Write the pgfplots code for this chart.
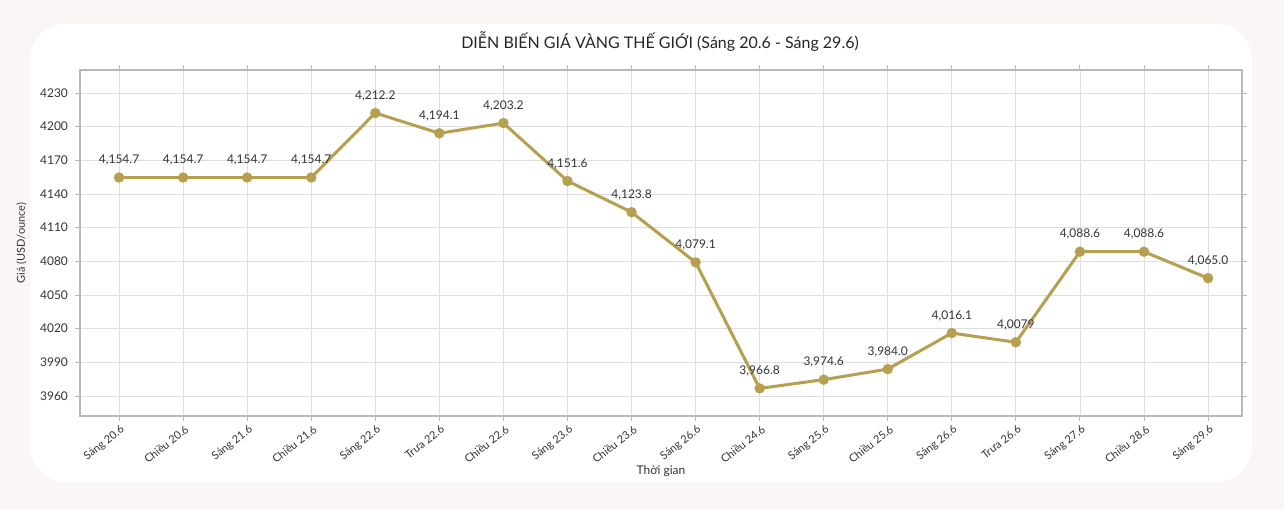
\documentclass[border=0pt]{standalone}
\usepackage{fontspec}
\setmainfont{Lato}
\usepackage{pgfplots}
\pgfplotsset{compat=1.18}
\usepackage{pgfplotstable}
\definecolor{gold}{HTML}{B79F50}
\definecolor{bgc}{HTML}{FAF6F6}
\definecolor{gridc}{HTML}{DEDEDE}
\definecolor{axc}{HTML}{B8B8B8}
\definecolor{txt}{HTML}{333333}

\pgfplotstableread{
x y lab
0 4154.7 {4,154.7}
1 4154.7 {4,154.7}
2 4154.7 {4,154.7}
3 4154.7 {4,154.7}
4 4212.2 {4,212.2}
5 4194.1 {4,194.1}
6 4203.2 {4,203.2}
7 4151.6 {4,151.6}
8 4123.8 {4,123.8}
9 4079.1 {4,079.1}
10 3966.8 {3,966.8}
11 3974.6 {3,974.6}
12 3984.0 {3,984.0}
13 4016.1 {4,016.1}
14 4007.9 {4,0079}
15 4088.6 {4,088.6}
16 4088.6 {4,088.6}
17 4065.0 {4,065.0}
}\data

\begin{document}
\begin{tikzpicture}
\useasboundingbox (0,0) rectangle (642pt,255pt);
\fill[bgc] (0,0) rectangle (642pt,255pt);
\fill[white, rounded corners=18pt] (15pt,14pt) rectangle (626pt,243pt);
\node[text=black!85, font=\fontsize{8pt}{9.5pt}\selectfont] at (330pt,234pt) {DIỄN BIẾN GIÁ VÀNG THẾ GIỚI (Sáng 20.6 - Sáng 29.6)};
\begin{axis}[
  at={(40pt,47pt)}, anchor=south west,
  scale only axis, width=581pt, height=173pt,
  xmin=-0.61, xmax=17.53, ymin=3942.2, ymax=4250.5,
  axis line style={axc, line width=0.6pt},
  grid=major, grid style={gridc, line width=0.4pt},
  ytick={3960,3990,4020,4050,4080,4110,4140,4170,4200,4230},
  xtick={0,...,17},
  xticklabels={Sáng 20.6, Chiều 20.6, Sáng 21.6, Chiều 21.6, Sáng 22.6, Trưa 22.6, Chiều 22.6, Sáng 23.6, Chiều 23.6, Sáng 26.6, Chiều 24.6, Sáng 25.6, Chiều 25.6, Sáng 26.6, Trưa 26.6, Sáng 27.6, Chiều 28.6, Sáng 29.6},
  x tick label style={rotate=38, anchor=north east, font=\fontsize{5.5pt}{6.5pt}\selectfont, text=txt, inner sep=0.5pt, yshift=-1pt},
  y tick label style={font=\fontsize{6pt}{7pt}\selectfont, text=txt},
  /pgf/number format/assume math mode=true,
  /pgf/number format/set thousands separator={},
  tick align=outside, major tick length=2.5pt,
  tick style={axc, line width=0.5pt},
  xlabel={Thời gian}, ylabel={Giá (USD/ounce)},
  xlabel style={font=\fontsize{6pt}{7pt}\selectfont, text=txt, at={(axis description cs:0.5,0)}, yshift=-27.5pt, anchor=center},
  ylabel style={font=\fontsize{5.5pt}{6.5pt}\selectfont, text=txt},
  nodes near coords, point meta=explicit symbolic,
  every node near coord/.append style={font=\fontsize{6pt}{7pt}\selectfont, text=txt, yshift=2pt},
  clip=false,
]
\addplot[gold, line width=1.5pt, mark=*, mark size=1.8pt, mark options={gold}] table[x=x,y=y,meta=lab] {\data};
\end{axis}
\end{tikzpicture}
\end{document}
